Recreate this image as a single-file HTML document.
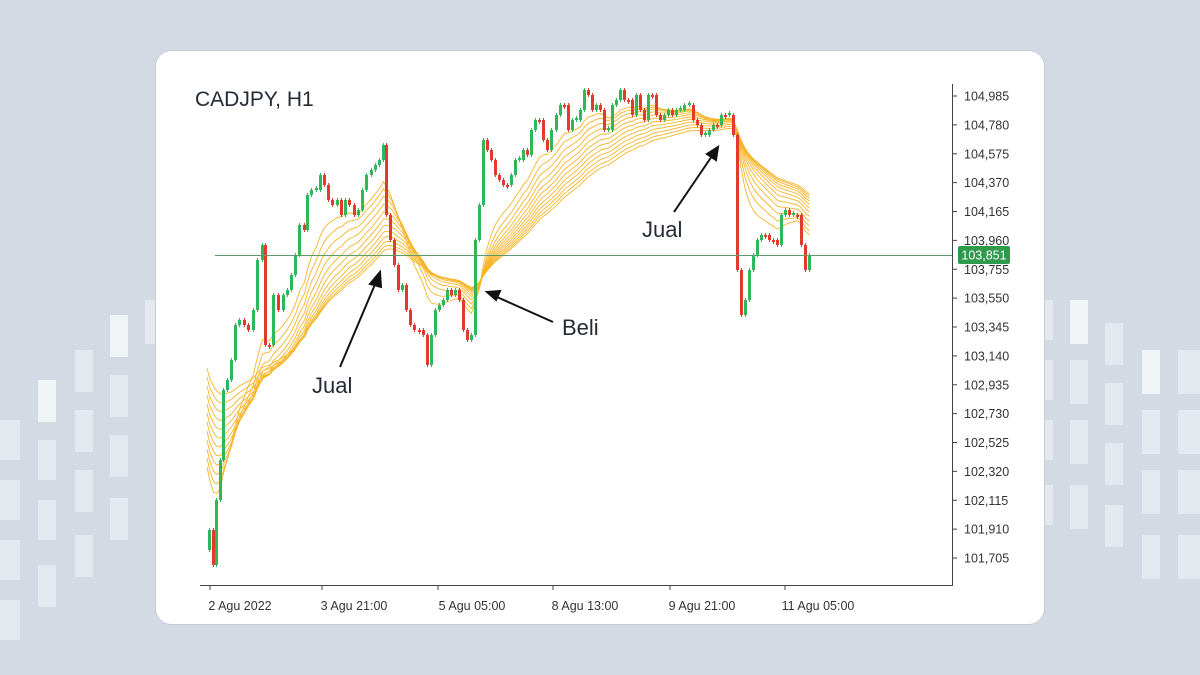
<!DOCTYPE html>
<html><head><meta charset="utf-8"><style>
body{margin:0;width:1200px;height:675px;background:#d3dae3;overflow:hidden;font-family:"Liberation Sans",sans-serif}
</style></head><body>
<svg id="s" width="1200" height="675" xmlns="http://www.w3.org/2000/svg" style="position:absolute;left:0;top:0">
<g fill="#e4e9ef">
<rect x="0" y="420" width="20" height="40"/><rect x="0" y="480" width="20" height="40"/><rect x="0" y="540" width="20" height="40"/><rect x="0" y="600" width="20" height="40"/>
<rect x="38" y="380" width="18" height="42" fill="#f1f4f7"/><rect x="38" y="440" width="18" height="40"/><rect x="38" y="500" width="18" height="40"/><rect x="38" y="565" width="18" height="42"/>
<rect x="75" y="350" width="18" height="42"/><rect x="75" y="410" width="18" height="42"/><rect x="75" y="470" width="18" height="42"/><rect x="75" y="535" width="18" height="42"/>
<rect x="110" y="315" width="18" height="42" fill="#f1f4f7"/><rect x="110" y="375" width="18" height="42"/><rect x="110" y="435" width="18" height="42"/><rect x="110" y="498" width="18" height="42"/>
<rect x="145" y="300" width="12" height="44"/>
<rect x="1045" y="300" width="8" height="40"/><rect x="1045" y="360" width="8" height="40"/><rect x="1045" y="420" width="8" height="40"/><rect x="1045" y="485" width="8" height="40"/>
<rect x="1070" y="300" width="18" height="44" fill="#f1f4f7"/><rect x="1070" y="360" width="18" height="44"/><rect x="1070" y="420" width="18" height="44"/><rect x="1070" y="485" width="18" height="44"/>
<rect x="1105" y="323" width="18" height="42"/><rect x="1105" y="383" width="18" height="42"/><rect x="1105" y="443" width="18" height="42"/><rect x="1105" y="505" width="18" height="42"/>
<rect x="1142" y="350" width="18" height="44" fill="#f1f4f7"/><rect x="1142" y="410" width="18" height="44"/><rect x="1142" y="470" width="18" height="44"/><rect x="1142" y="535" width="18" height="44"/>
<rect x="1178" y="350" width="22" height="44"/><rect x="1178" y="410" width="22" height="44"/><rect x="1178" y="470" width="22" height="44"/><rect x="1178" y="535" width="22" height="44"/>
</g>
<rect x="155.5" y="50.5" width="889" height="574" rx="16" fill="#fff" stroke="#c5ccd6"/>
<text x="195" y="106" font-size="21" fill="#222b36">CADJPY, H1</text>
<line x1="952.5" y1="84" x2="952.5" y2="586" stroke="#444" stroke-width="1"/>
<line x1="200" y1="585.5" x2="953" y2="585.5" stroke="#444" stroke-width="1"/>
<g id="yl" font-size="12.5" fill="#333"></g>
<g id="rib" fill="none" stroke="#f7b52a" stroke-width="0.9"></g>
<g id="cd"></g>
<line x1="215" y1="255.5" x2="952" y2="255.5" stroke="#5d9a6c" stroke-width="1"/>
<rect x="958" y="246" width="52" height="18" rx="2" fill="#2f9a4c"/>
<text x="984" y="259.5" font-size="12.5" fill="#fff" text-anchor="middle">103,851</text>
<g font-size="12.5" fill="#333" text-anchor="middle">
<text x="240" y="610">2 Agu 2022</text><text x="354" y="610">3 Agu 21:00</text><text x="472" y="610">5 Agu 05:00</text><text x="585" y="610">8 Agu 13:00</text><text x="702" y="610">9 Agu 21:00</text><text x="818" y="610">11 Agu 05:00</text>
</g>
<g stroke="#444"><line x1="210" y1="585" x2="210" y2="590"/><line x1="322" y1="585" x2="322" y2="590"/><line x1="438" y1="585" x2="438" y2="590"/><line x1="553" y1="585" x2="553" y2="590"/><line x1="670" y1="585" x2="670" y2="590"/><line x1="785" y1="585" x2="785" y2="590"/></g>
<g font-size="22" fill="#222b36"><text x="312" y="393">Jual</text><text x="562" y="335">Beli</text><text x="642" y="237">Jual</text></g>
<g stroke="#111" stroke-width="2" fill="#111">
<line x1="340" y1="367" x2="376" y2="282"/><polygon points="380,272 370,284 381,287"/>
<line x1="553" y1="322" x2="497" y2="297"/><polygon points="487,292 500,291 496,300"/>
<line x1="674" y1="212" x2="712" y2="156"/><polygon points="718,147 707,154 716,160"/>
</g>
</svg>
<script>
var NS="http://www.w3.org/2000/svg",s=document.getElementById('s');
function el(p,t,a){var e=document.createElementNS(NS,t);for(var k in a)e.setAttribute(k,a[k]);p.appendChild(e);return e;}
var labs=["104,985","104,780","104,575","104,370","104,165","103,960","103,755","103,550","103,345","103,140","102,935","102,730","102,525","102,320","102,115","101,910","101,705"];
var yl=document.getElementById('yl');
labs.forEach(function(l,i){var y=96+i*28.875;var t=el(yl,'text',{x:964,y:y+4.5});t.textContent=l;el(yl,'line',{x1:952,y1:y,x2:957,y2:y,stroke:'#444'});});
var P=[[208,530],[212,565],[215,500],[219,460],[222,390],[226,380],[230,360],[234,325],[238,320],[243,325],[247,330],[252,310],[256,260],[261,245],[264,345],[268,345],[272,295],[277,310],[282,295],[286,290],[290,275],[294,255],[298,225],[303,230],[306,195],[310,190],[315,190],[319,175],[323,185],[327,200],[331,205],[336,200],[340,215],[344,200],[348,205],[353,215],[357,210],[361,190],[365,175],[370,170],[374,165],[378,160],[382,145],[385,215],[389,240],[393,265],[397,290],[401,285],[405,310],[409,325],[413,330],[418,330],[422,335],[426,365],[430,335],[434,310],[438,305],[442,300],[446,290],[450,295],[454,290],[458,300],[462,330],[466,340],[470,335],[474,240],[478,205],[482,140],[486,150],[490,160],[494,175],[498,180],[502,185],[506,185],[510,175],[514,160],[518,160],[522,150],[526,155],[530,130],[534,120],[538,120],[542,140],[546,150],[550,130],[555,115],[559,105],[563,105],[567,130],[571,120],[575,120],[579,110],[583,90],[587,95],[591,110],[595,105],[599,110],[603,130],[607,130],[611,105],[615,100],[619,90],[623,100],[627,100],[631,115],[635,95],[639,110],[643,120],[647,95],[651,95],[655,115],[659,120],[663,115],[667,110],[671,115],[675,110],[679,110],[683,105],[688,105],[692,120],[696,125],[700,135],[704,135],[708,130],[712,125],[716,125],[720,115],[724,115],[728,115],[732,135],[736,270],[740,315],[744,300],[748,270],[752,255],[756,240],[760,235],[764,235],[768,240],[772,240],[776,245],[780,215],[784,210],[788,215],[792,215],[796,215],[800,245],[804,270],[808,255]];
var cd=document.getElementById('cd'),prev=550;
P.forEach(function(p,i){var o=prev,c=p[1];if(Math.abs(o-c)<2)c=o+(i%2?2:-2);var up=c<o;var col=up?'#2fb85a':'#e23b2e';
var top=Math.min(o,c),bot=Math.max(o,c);el(cd,'line',{x1:p[0]+1.5,y1:top-2,x2:p[0]+1.5,y2:bot+2,stroke:col,'stroke-width':1});
el(cd,'rect',{x:p[0],y:top,width:3,height:Math.max(2,bot-top),fill:col});prev=p[1];});
var rib=document.getElementById('rib');
for(var k=0;k<12;k++){var per=12+k*3,a=2/(per+1),v=470-k*9,d='M207,'+(v-3);
 for(var i=0;i<P.length;i++){v=v+a*(P[i][1]-v);d+=' L'+(P[i][0]+1.5)+','+v.toFixed(1);}
 el(rib,'path',{d:d});}
</script>
</body></html>
